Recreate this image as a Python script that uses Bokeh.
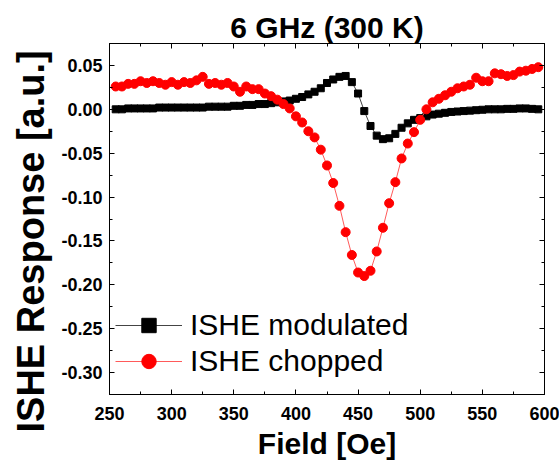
from bokeh.plotting import figure
from bokeh.models import (LinearAxis, SingleIntervalTicker, PrintfTickFormatter,
                          Range1d, Legend, LegendItem, ColumnDataSource, Title)
from bokeh.embed import file_html
from bokeh.resources import INLINE

field = [255, 260, 265, 270, 275, 280, 285, 290, 295, 300,
         305, 310, 315, 320, 325, 330, 335, 340, 345, 350,
         355, 360, 365, 370, 375, 380, 385, 390, 395, 400,
         405, 410, 415, 420, 425, 430, 435, 440, 445, 450,
         455, 460, 465, 470, 475, 480, 485, 490, 495, 500,
         505, 510, 515, 520, 525, 530, 535, 540, 545, 550,
         555, 560, 565, 570, 575, 580, 585, 590, 595]

ishe_modulated = [0.000, 0.000, 0.001, 0.001, 0.001, 0.001, 0.001, 0.002, 0.002, 0.002,
                  0.002, 0.002, 0.002, 0.002, 0.002, 0.003, 0.003, 0.003, 0.003, 0.004,
                  0.004, 0.005, 0.005, 0.006, 0.006, 0.007, 0.008, 0.009, 0.010, 0.012,
                  0.014, 0.017, 0.020, 0.024, 0.030, 0.034, 0.037, 0.038, 0.031, 0.018,
                  -0.002, -0.019, -0.030, -0.034, -0.033, -0.028, -0.021, -0.016, -0.012, -0.010,
                  -0.008, -0.006, -0.005, -0.004, -0.003, -0.0025, -0.002, -0.0015, -0.001, -0.0005,
                  0.000, 0.000, 0.000, 0.0005, 0.0005, 0.001, 0.001, 0.0005, 0.000]

ishe_chopped = [0.026, 0.026, 0.029, 0.029, 0.032, 0.030, 0.032, 0.030, 0.028, 0.031,
                0.028, 0.031, 0.030, 0.033, 0.037, 0.029, 0.030, 0.028, 0.030, 0.026,
                0.020, 0.026, 0.023, 0.023, 0.018, 0.015, 0.011, 0.006, 0.001, -0.008,
                -0.015, -0.025, -0.032, -0.046, -0.064, -0.084, -0.110, -0.140, -0.166, -0.186,
                -0.190, -0.184, -0.162, -0.135, -0.107, -0.083, -0.056, -0.039, -0.026, -0.012,
                0.000, 0.008, 0.012, 0.016, 0.020, 0.024, 0.026, 0.028, 0.036, 0.032,
                0.032, 0.041, 0.040, 0.038, 0.039, 0.043, 0.044, 0.046, 0.048]

series_names = ["ISHE modulated", "ISHE chopped"]
title_text = "6 GHz (300 K)"
x_label = "Field [Oe]"
y_label = "ISHE Response [a.u.]"

FONT = "Liberation Sans"

src = ColumnDataSource(dict(field=field, mod=ishe_modulated, chop=ishe_chopped))

p = figure(width=559, height=464, output_backend="svg", toolbar_location=None,
           x_range=Range1d(250, 600), y_range=Range1d(-0.325, 0.075),
           min_border_left=107, min_border_right=15, min_border_top=43, min_border_bottom=70,
           background_fill_color="white", border_fill_color="white")

p.title.text = title_text
p.title.align = "center"
p.title.text_font = FONT
p.title.text_font_size = "30px"
p.title.text_font_style = "bold"
p.title.text_color = "black"
p.title.standoff = 0
p.title.offset = 0

p.xgrid.visible = False
p.ygrid.visible = False
p.outline_line_color = "black"
p.outline_line_width = 1


def style_axis(ax, labels=True):
    ax.axis_line_color = "black"
    ax.major_tick_line_color = "black"
    ax.minor_tick_line_color = "black"
    ax.major_tick_in = 5
    ax.major_tick_out = 0
    ax.minor_tick_in = 3
    ax.minor_tick_out = 0
    if labels:
        ax.major_label_text_font = FONT
        ax.major_label_text_font_size = "18px"
        ax.major_label_text_font_style = "bold"
        ax.major_label_text_color = "black"
    else:
        ax.major_label_text_font_size = "0px"
        ax.major_label_standoff = 0


p.xaxis.ticker = SingleIntervalTicker(interval=50, num_minor_ticks=2)
p.yaxis.ticker = SingleIntervalTicker(interval=0.05, num_minor_ticks=2)
p.yaxis.formatter = PrintfTickFormatter(format="%.2f")
style_axis(p.xaxis[0])
style_axis(p.yaxis[0])
p.xaxis.major_label_standoff = 12
p.yaxis.major_label_standoff = 7

p.xaxis.axis_label = x_label
p.xaxis.axis_label_text_font = FONT
p.xaxis.axis_label_text_font_size = "30px"
p.xaxis.axis_label_text_font_style = "bold"
p.xaxis.axis_label_text_color = "black"
p.xaxis.axis_label_standoff = 4

top = LinearAxis(ticker=SingleIntervalTicker(interval=50, num_minor_ticks=2))
style_axis(top, labels=False)
p.add_layout(top, "above")
right = LinearAxis(ticker=SingleIntervalTicker(interval=0.05, num_minor_ticks=2))
style_axis(right, labels=False)
p.add_layout(right, "right")

ytitle = Title(text=y_label, align="left", offset=-38, vertical_align="bottom",
               text_font=FONT, text_font_size="38px", text_font_style="bold",
               text_color="black", standoff=14)
p.add_layout(ytitle, "left")

l1 = p.line("field", "mod", source=src, line_color="#444444", line_width=1)
s1 = p.scatter("field", "mod", source=src, marker="square", size=7,
               fill_color="black", line_color="black")
l2 = p.line("field", "chop", source=src, line_color="#ff5a5a", line_width=1)
s2 = p.scatter("field", "chop", source=src, marker="circle", size=9,
               fill_color="red", line_color="red")

legend = Legend(items=[LegendItem(label=series_names[0], renderers=[l1, s1]),
                       LegendItem(label=series_names[1], renderers=[l2, s2])],
                location=(6, 15), border_line_color=None, background_fill_alpha=0,
                label_text_font=FONT, label_text_font_size="30px", label_text_color="black",
                glyph_width=67, glyph_height=36, label_height=36, spacing=0,
                padding=5, margin=0, label_standoff=8)
p.add_layout(legend)

open("out.html", "w").write(file_html(p, INLINE))
